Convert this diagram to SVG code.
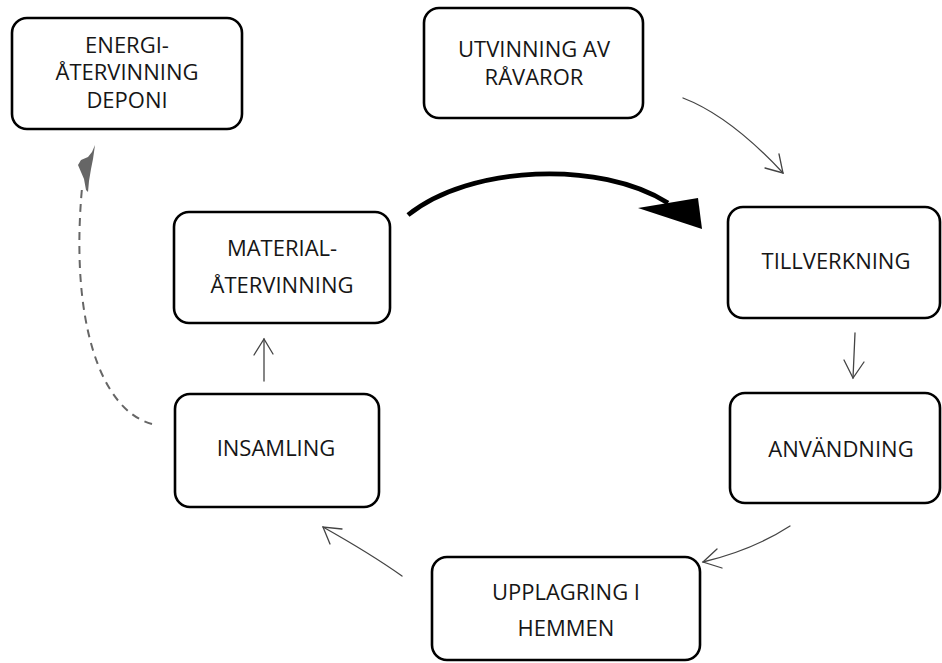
<svg xmlns="http://www.w3.org/2000/svg" width="942" height="663" viewBox="0 0 942 663">
<style>
.box{fill:#fff;stroke:#000;stroke-width:2.6}
.t{font-family:"Open Sans","Liberation Sans",sans-serif;font-size:22px;fill:#161616;text-anchor:middle}
.thin{fill:none;stroke:#444;stroke-width:1.3;stroke-linecap:round}
</style>
<rect width="942" height="663" fill="#fff"/>
<g id="connectors">
<path class="thin" d="M683,98 Q730,116 783,173"/>
<path class="thin" d="M779,154 L783,173 L765,168"/>
<path d="M408,215 C470,165 600,160 668,203" fill="none" stroke="#000" stroke-width="4.8"/>
<polygon points="638,208 698,198 702,229" fill="#000"/>
<path class="thin" d="M855,333 L853,378"/>
<path class="thin" d="M844,360 L853,378 L864,362"/>
<path class="thin" d="M790,526 Q753,550 703,562"/>
<path class="thin" d="M717,549 L703,562 L722,568"/>
<path class="thin" d="M402,576 Q371,554 323,527"/>
<path class="thin" d="M342,529 L323,527 L330,544"/>
<path class="thin" d="M264,381 L264,339"/>
<path class="thin" d="M254,355 L264,339 L273,354"/>
<path d="M152,424 C100,410 70,320 82,188" fill="none" stroke="#666" stroke-width="2" stroke-dasharray="8,6"/>
<polygon points="95,145 92,152 88,157 81,160 78,165 81,172 84,179 86,190 88,192 89,181 91,169 93,159" fill="#666"/>
</g>
<g id="energi">
<rect class="box" x="12" y="18" width="230" height="111" rx="15"/>
<text class="t" x="127" y="53">ENERGI-</text>
<text class="t" x="127" y="80">ÅTERVINNING</text>
<text class="t" x="127" y="108">DEPONI</text>
</g>
<g id="utvinning">
<rect class="box" x="424" y="8" width="219" height="110" rx="15"/>
<text class="t" x="534" y="57">UTVINNING AV</text>
<text class="t" x="534" y="85">RÅVAROR</text>
</g>
<g id="material">
<rect class="box" x="174" y="212" width="216" height="111" rx="15"/>
<text class="t" x="282" y="256">MATERIAL-</text>
<text class="t" x="282" y="293">ÅTERVINNING</text>
</g>
<g id="tillverkning">
<rect class="box" x="728" y="207" width="212" height="111" rx="15"/>
<text class="t" x="836" y="269">TILLVERKNING</text>
</g>
<g id="anvandning">
<rect class="box" x="730" y="393" width="210" height="110" rx="15"/>
<text class="t" x="841" y="457">ANVÄNDNING</text>
</g>
<g id="insamling">
<rect class="box" x="175" y="394" width="204" height="113" rx="15"/>
<text class="t" x="276" y="456">INSAMLING</text>
</g>
<g id="upplagring">
<rect class="box" x="432" y="557" width="268" height="103" rx="15"/>
<text class="t" x="566" y="600">UPPLAGRING I</text>
<text class="t" x="566" y="636">HEMMEN</text>
</g>
</svg>
